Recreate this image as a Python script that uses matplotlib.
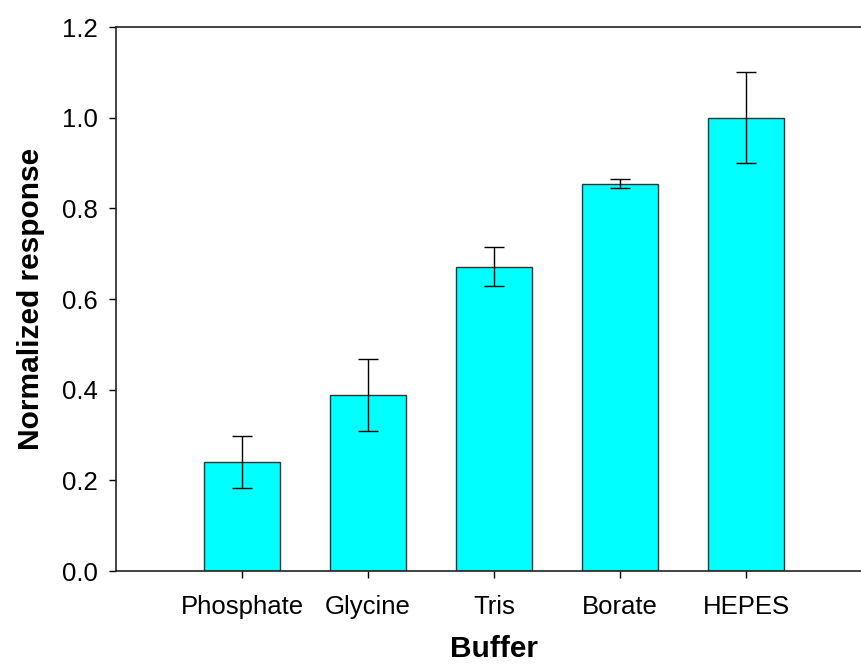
import matplotlib.pyplot as plt

# data
buffers = ["Phosphate", "Glycine", "Tris", "Borate", "HEPES"]
response = [0.240, 0.388, 0.671, 0.854, 1.000]
error = [0.057, 0.080, 0.043, 0.010, 0.100]

plt.rcParams['font.family'] = ['Liberation Sans', 'DejaVu Sans']

fig = plt.figure(figsize=(8.61, 6.67), dpi=100)
# the original figure is cropped on the right, so the axes run past the edge
ax = fig.add_axes([0.1347, 0.1439, 0.878, 0.8156])

pos = list(range(1, len(buffers) + 1))
ax.bar(pos, response, width=0.61, color="#00FFFF", edgecolor="#333333",
       linewidth=1.0, zorder=2)
ax.errorbar(pos, response, yerr=error, fmt="none", ecolor="black",
            elinewidth=1.0, capsize=7.5, capthick=1.0, zorder=3)

ax.set_xlim(0, 6)
ax.set_ylim(0, 1.2)
ax.set_yticks([0.0, 0.2, 0.4, 0.6, 0.8, 1.0, 1.2])
ax.set_yticklabels(["0.0", "0.2", "0.4", "0.6", "0.8", "1.0", "1.2"])
ax.set_xticks(pos)
ax.set_xticklabels(buffers)
ax.tick_params(axis="both", direction="out", length=5, width=1.0,
               labelsize=18.5, pad=8)
ax.tick_params(axis="x", pad=12)

for s in ax.spines.values():
    s.set_linewidth(1.2)
    s.set_color("#222222")

ax.set_ylabel("Normalized response", fontsize=21.5, fontweight="bold", labelpad=12)
ax.set_xlabel("Buffer", fontsize=21.5, fontweight="bold", labelpad=12)

fig.savefig("out.png", dpi=100)
